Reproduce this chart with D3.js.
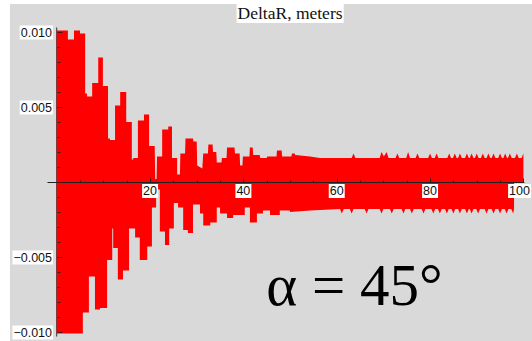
<!DOCTYPE html>
<html>
<head>
<meta charset="utf-8">
<script src="https://cdn.jsdelivr.net/npm/d3@7/dist/d3.min.js"></script>
<style>
  html, body { margin: 0; padding: 0; background: #ffffff; }
  svg { display: block; }
</style>
</head>
<body>
<svg id="chart" width="532" height="341"></svg>
<script>
// DeltaR (meters) versus time: envelope of a fast oscillation, [t, value] pairs
const upperEnvelope = [
  [0,0.0101],[2.4,0.0101],[2.4,0.0095],[3.7,0.0095],[3.7,0.0101],[5.0,0.0101],[5.0,0.0099],[6.1,0.0099],
  [6.1,0.0059],[6.5,0.0059],[6.5,0.0057],[7.6,0.0057],[7.6,0.0066],[8.9,0.0066],[8.9,0.0083],[9.9,0.0083],
  [9.9,0.0064],[11.0,0.0064],[11.0,0.0029],[11.4,0.0029],[11.4,0.0028],[12.5,0.0028],[12.5,0.0051],[13.6,0.0051],
  [13.6,0.0060],[14.9,0.0060],[14.9,0.0040],[16.1,0.0040],[16.1,0.0015],[16.4,0.0015],[16.4,0.0016],[17.4,0.0016],
  [17.4,0.0041],[18.7,0.0041],[18.7,0.0045],[19.8,0.0045],[19.8,0.0024],[21.0,0.0024],[21.1,0.0002],[21.4,0.0002],
  [21.5,0.0017],[22.6,0.0017],[22.6,0.0035],[23.9,0.0035],[23.9,0.0037],[24.7,0.0037],[24.7,0.0016],[25.8,0.0016],
  [25.8,0.0005],[26.4,0.0005],[26.5,0.0019],[27.5,0.0019],[27.6,0.0029],[29.2,0.0029],[29.3,0.0027],[30.0,0.0027],
  [30.1,0.0011],[31.2,0.0009],[31.4,0.0019],[32.4,0.0019],[32.5,0.0025],[33.4,0.0025],[33.5,0.0020],[34.2,0.0020],
  [34.3,0.0013],[35.3,0.0013],[35.4,0.0016],[36.4,0.0016],[36.5,0.0023],[38.1,0.0023],[38.2,0.0019],[39.2,0.0019],
  [39.3,0.0011],[39.8,0.0011],[39.9,0.0017],[41.3,0.0017],[41.4,0.0023],[42.0,0.0023],[42.1,0.0018],[43.5,0.0018],
  [43.6,0.0016],[45.0,0.0016],[45.1,0.0017],[47.1,0.0017],[47.2,0.0021],[48.2,0.0021],[48.3,0.0017],[50.3,0.0017],
  [50.4,0.0019],[51.0,0.0019],[51.1,0.0018],[54.3,0.0017],[56.4,0.0016],[63.2,0.0016],[63.6,0.0019],[64.0,0.0016],
  [69.2,0.0016],[69.6,0.0020],[70.1,0.0017],[70.7,0.0020],[71.1,0.0016],[72.6,0.0016],[73.0,0.0019],[73.4,0.0016],
  [74.9,0.0016],[75.3,0.0020],[75.7,0.0016],[76.9,0.0016],[77.3,0.0019],[77.7,0.0016],[79.6,0.0016],[80.0,0.0019],
  [80.4,0.0016],[81.0,0.0016],[81.4,0.0019],[81.8,0.0016],[83.7,0.0016],[84.1,0.0019],[84.5,0.0016],[84.9,0.0016],
  [85.3,0.0019],[85.7,0.0016],[86.0,0.0016],[86.4,0.0019],[86.8,0.0016],[87.5,0.0016],[87.9,0.0019],[88.3,0.0016],
  [88.5,0.0016],[88.9,0.0019],[89.3,0.0016],[89.6,0.0016],[90.0,0.0019],[90.4,0.0016],[90.9,0.0016],[91.3,0.0019],
  [91.7,0.0016],[92.1,0.0016],[92.5,0.0019],[92.9,0.0016],[93.2,0.0016],[93.6,0.0019],[94.0,0.0016],[94.6,0.0016],
  [95.0,0.0019],[95.4,0.0016],[95.7,0.0016],[96.1,0.0019],[96.5,0.0016],[96.7,0.0016],[97.1,0.0019],[97.5,0.0016],
  [98.2,0.0016],[98.6,0.0019],[99.0,0.0016],[99.6,0.0016],[100,0.0019]
];

const lowerEnvelope = [
  [0,-0.0101],[5.6,-0.0101],[5.6,-0.0087],[6.9,-0.0087],[6.9,-0.0063],[8.2,-0.0063],[8.2,-0.0085],[9.3,-0.0085],
  [9.3,-0.0084],[10.8,-0.0084],[10.8,-0.0052],[11.9,-0.0052],[11.9,-0.0031],[12.1,-0.0031],[12.1,-0.0044],[13.1,-0.0044],
  [13.1,-0.0065],[14.2,-0.0065],[14.2,-0.0059],[15.5,-0.0059],[15.5,-0.0031],[16.8,-0.0031],[16.8,-0.0037],[17.8,-0.0037],
  [17.8,-0.0052],[19.4,-0.0052],[19.4,-0.0043],[20.4,-0.0043],[20.4,-0.0017],[21.3,-0.0017],[21.3,-0.0005],[22.1,-0.0005],
  [22.1,-0.0033],[23.2,-0.0033],[23.2,-0.0042],[24.1,-0.0042],[24.1,-0.0031],[25.1,-0.0031],[25.1,-0.0014],[26.0,-0.0014],
  [26.0,-0.0017],[27.1,-0.0017],[27.1,-0.0032],[28.1,-0.0032],[28.1,-0.0034],[29.2,-0.0034],[29.2,-0.0015],[30.7,-0.0015],
  [30.7,-0.0021],[31.4,-0.0021],[31.4,-0.0029],[32.9,-0.0029],[32.9,-0.0027],[34.3,-0.0027],[34.3,-0.0017],[35.0,-0.0017],
  [35.0,-0.0021],[36.5,-0.0021],[36.5,-0.0024],[37.8,-0.0024],[37.8,-0.0022],[40.3,-0.0022],[40.3,-0.0017],[41.4,-0.0017],
  [41.4,-0.0027],[42.9,-0.0027],[42.9,-0.0021],[44.2,-0.0021],[44.2,-0.0019],[45.7,-0.0019],[45.7,-0.0022],[47.8,-0.0022],
  [47.8,-0.0019],[50.0,-0.0019],[50.0,-0.0020],[54.3,-0.0019],[60.7,-0.0018],[61.1,-0.0021],[61.5,-0.0018],[62.8,-0.0018],
  [63.2,-0.0021],[63.6,-0.0018],[66.0,-0.0018],[66.4,-0.0021],[66.8,-0.0018],[69.2,-0.0018],[69.6,-0.0021],[70.0,-0.0018],
  [71.4,-0.0018],[71.8,-0.0021],[72.2,-0.0018],[73.9,-0.0018],[74.3,-0.0021],[74.7,-0.0018],[75.7,-0.0018],[76.1,-0.0021],
  [76.5,-0.0018],[78.2,-0.0018],[78.6,-0.0021],[79.0,-0.0018],[80.3,-0.0018],[80.7,-0.0021],[81.1,-0.0018],[81.7,-0.0018],
  [82.1,-0.0021],[82.5,-0.0018],[83.2,-0.0018],[83.6,-0.0021],[84.0,-0.0018],[84.6,-0.0018],[85.0,-0.0021],[85.4,-0.0018],
  [86.0,-0.0018],[86.4,-0.0021],[86.8,-0.0018],[87.5,-0.0018],[87.9,-0.0021],[88.3,-0.0018],[88.5,-0.0018],[88.9,-0.0021],
  [89.3,-0.0018],[89.9,-0.0018],[90.3,-0.0021],[90.7,-0.0018],[91.7,-0.0018],[92.1,-0.0021],[92.5,-0.0018],[93.2,-0.0018],
  [93.6,-0.0021],[94.0,-0.0018],[94.6,-0.0018],[95.0,-0.0021],[95.4,-0.0018],[96.0,-0.0018],[96.4,-0.0021],[96.8,-0.0018],
  [97.4,-0.0018],[97.8,-0.0021],[98.0,-0.0018],[98.0,0]
];

const xTicks = [20, 40, 60, 80, 100];
const xTickLabels = ["20", "40", "60", "80", "100"];
const yTicks = [0.010, 0.005, -0.005, -0.010];
const yTickLabels = ["0.010", "0.005", "\u22120.005", "\u22120.010"];
const titleText = "DeltaR, meters";
const annotationText = "\u03B1 = 45\u00B0";

const svg = d3.select("#chart");
const W = 532, H = 341;

const x = d3.scaleLinear().domain([0, 100]).range([56.7, 523.4]);
const y = d3.scaleLinear().domain([-0.01, 0.01]).range([332, 32]);

// panel background
svg.append("rect").attr("x", 10).attr("y", 4).attr("width", W - 10).attr("height", H - 4)
  .attr("fill", "#d9d9d9");

// vertical axis line (sits behind the filled signal)
svg.append("line").attr("x1", x(0)).attr("x2", x(0)).attr("y1", y(0.0103)).attr("y2", y(-0.0103))
  .attr("stroke", "#333").attr("stroke-width", 1);

// filled signal
const areaUp = d3.area().x(d => x(d[0])).y0(y(0)).y1(d => y(d[1]));
svg.append("path").datum(upperEnvelope).attr("d", areaUp).attr("fill", "#ff0000");
svg.append("path").datum(lowerEnvelope).attr("d", areaUp).attr("fill", "#ff0000");

// horizontal axis
const axisY = y(0);
svg.append("line").attr("x1", 47.5).attr("x2", x(100) + 1).attr("y1", axisY + 0.5).attr("y2", axisY + 0.5)
  .attr("stroke", "#222").attr("stroke-width", 1);

const xMinor = d3.range(5, 101, 5);
svg.append("g").selectAll("line").data(xMinor).join("line")
  .attr("x1", d => Math.round(x(d)) + 0.5).attr("x2", d => Math.round(x(d)) + 0.5)
  .attr("y1", axisY + 0.5).attr("y2", d => axisY + 0.5 - (d % 20 === 0 ? 4 : 2))
  .attr("stroke", "#222").attr("stroke-width", 1);

// vertical axis ticks, drawn on top of the fill
const yMinor = d3.range(-10, 11).map(k => k / 1000);
svg.append("g").selectAll("line").data(yMinor).join("line")
  .attr("x1", Math.round(x(0)) + 0.5).attr("x2", d => Math.round(x(0)) + 0.5 + (Math.abs(Math.round(d * 1000)) % 5 === 0 ? 5 : 3))
  .attr("y1", d => Math.round(y(d)) + 0.5).attr("y2", d => Math.round(y(d)) + 0.5)
  .attr("stroke", "#551010").attr("stroke-width", 1);

// labels with white backing boxes
function boxedText(g, pad) {
  g.each(function() {
    const bb = this.getBBox();
    d3.select(this.parentNode).insert("rect", () => this)
      .attr("x", bb.x - pad).attr("y", bb.y).attr("width", bb.width + 2 * pad).attr("height", bb.height)
      .attr("fill", "#ffffff");
  });
}

const yLab = svg.append("g").selectAll("g").data(yTicks).join("g");
yLab.append("text")
  .attr("x", 52).attr("y", d => y(d)).attr("dy", "0.36em")
  .attr("text-anchor", "end")
  .attr("font-family", "Liberation Sans, Arial, sans-serif").attr("font-size", 12.5)
  .attr("fill", "#111")
  .text((d, i) => yTickLabels[i])
  .call(boxedText, 1);

const xLab = svg.append("g").selectAll("g").data(xTicks).join("g");
xLab.append("text")
  .attr("x", d => x(d)).attr("y", axisY + 13)
  .attr("text-anchor", "middle")
  .attr("font-family", "Liberation Sans, Arial, sans-serif").attr("font-size", 12.5)
  .attr("fill", "#111")
  .text((d, i) => xTickLabels[i])
  .each(function() {
    // keep the last label inside the frame
    const bb = this.getBBox();
    const over = bb.x + bb.width + 2 - W;
    if (over > 0) d3.select(this).attr("x", +d3.select(this).attr("x") - over);
  })
  .call(boxedText, 1);

// title
const tg = svg.append("g");
tg.append("text")
  .attr("x", (x(0) + x(100)) / 2).attr("y", 19)
  .attr("text-anchor", "middle")
  .attr("font-family", "Liberation Serif, Times New Roman, serif").attr("font-size", 17.5)
  .attr("fill", "#111")
  .text(titleText)
  .call(boxedText, 1);

// annotation
svg.append("text")
  .attr("x", 354.5).attr("y", 305)
  .attr("text-anchor", "middle")
  .attr("font-family", "Liberation Serif, Times New Roman, serif").attr("font-size", 59)
  .attr("fill", "#000")
  .text(annotationText);
</script>
</body>
</html>
